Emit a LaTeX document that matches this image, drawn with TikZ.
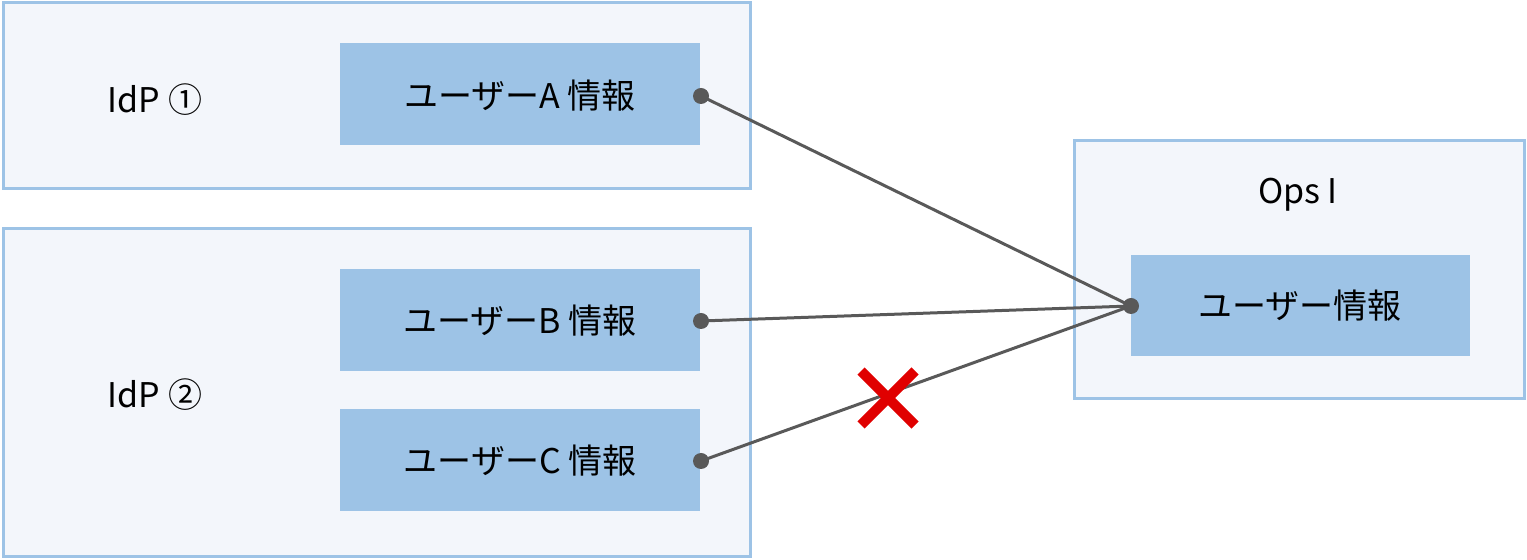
\documentclass[tikz,border=0pt]{standalone}
\usepackage{fontspec}
\setmainfont{Noto Sans CJK JP}
\begin{document}
\begin{tikzpicture}[x=0.5pt,y=-0.5pt,
  outer/.style={draw=bl,fill=bg,line width=1.5pt},
  inner/.style={fill=bl,draw=none},
  lbl/.style={font=\fontsize{17}{20}\selectfont,text=black},
  conn/.style={draw=gr,line width=1.5pt},
  dot/.style={circle,fill=gr,inner sep=0pt,minimum size=8pt}]
\definecolor{bl}{HTML}{9DC3E6}
\definecolor{bg}{HTML}{F3F6FB}
\definecolor{gr}{HTML}{595959}
\definecolor{rd}{HTML}{E00000}
\useasboundingbox (0,0) rectangle (1527,560);
\draw[outer] (3,3) rectangle (750,189);
\draw[outer] (3,229) rectangle (750,557);
\draw[outer] (1074,141) rectangle (1524,399);
\node[inner,minimum width=180pt,minimum height=51pt] (a) at (520,94) {};
\node[inner,minimum width=180pt,minimum height=51pt] (b) at (520,320.5) {};
\node[inner,minimum width=180pt,minimum height=51pt] (c) at (520,460) {};
\node[inner,minimum width=169.5pt,minimum height=50.5pt] (u) at (1300.5,305.5) {};
\node[lbl] (ta) at (520,96) {ユーザーA 情報};
\node[lbl] (tb) at (520,321) {ユーザーB 情報};
\node[lbl] (tc) at (520,461) {ユーザーC 情報};
\node[lbl] (tu) at (1300,306) {ユーザー情報};
\node[lbl] (l1) at (155,100) {IdP ①};
\node[lbl] (l2) at (155,395) {IdP ②};
\node[lbl] (l3) at (1298,195) {Ops I};
\node[dot] (da) at (701,96) {};
\node[dot] (db) at (701,321) {};
\node[dot] (dc) at (701,461) {};
\node[dot] (du) at (1131,306) {};
\draw[conn] (da.center) -- (du.center);
\draw[conn] (db.center) -- (du.center);
\draw[conn] (dc.center) -- (du.center);
\coordinate (x) at (888,398);
\draw[rd,line width=5pt] ([shift={(-27,-27)}]x) -- ([shift={(27,27)}]x);
\draw[rd,line width=5pt] ([shift={(-27,27)}]x) -- ([shift={(27,-27)}]x);
\end{tikzpicture}
\end{document}
